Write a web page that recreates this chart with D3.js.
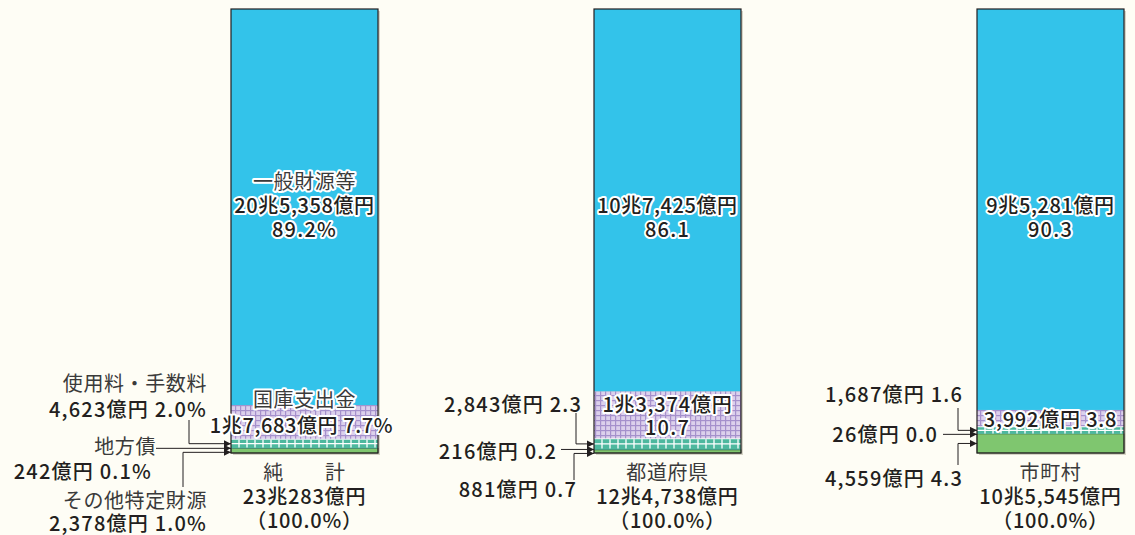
<!DOCTYPE html>
<html><head><meta charset="utf-8">
<script src="https://cdn.jsdelivr.net/npm/d3@7"></script>
<style>
html,body{margin:0;padding:0;background:#FEFDF5;}
svg{display:block;font-family:"Noto Sans CJK JP","Noto Sans",sans-serif;}
</style></head><body><svg id="c" width="1135" height="535"></svg>
<script>
// ---- data ----
const categories = ["純計", "都道府県", "市町村"];
const categoryLabels = ["純　　計", "都道府県", "市町村"];
const totalLabels = ["23兆283億円", "12兆4,738億円", "10兆5,545億円"];
const totalShareLabels = ["（100.0%）", "（100.0%）", "（100.0%）"];
const seriesKeys = ["other", "bonds", "fees", "treasury", "general"];
const seriesNames = ["その他特定財源", "地方債", "使用料・手数料", "国庫支出金", "一般財源等"];
const otherShare = [1.0, 0.7, 4.3];
const bondShare = [0.1, 0.2, 0.0];
const feeShare = [2.0, 2.3, 1.6];
const treasuryShare = [7.7, 10.7, 3.8];
const generalShare = [89.2, 86.1, 90.3];
const otherAmount = ["2,378億円", "881億円", "4,559億円"];
const bondAmount = ["242億円", "216億円", "26億円"];
const feeAmount = ["4,623億円", "2,843億円", "1,687億円"];
const treasuryAmount = ["1兆7,683億円", "1兆3,374億円", "3,992億円"];
const generalAmount = ["20兆5,358億円", "10兆7,425億円", "9兆5,281億円"];
const percentSuffix = ["%", "", ""];

// ---- layout ----
const W = 1135, H = 535;
const barW = 147;
const svg = d3.select("#c");
svg.append("rect").attr("width", W).attr("height", H).attr("fill", "#FEFDF5");

const rows = categories.map((c, i) => ({
  cat: c, i,
  other: otherShare[i], bonds: bondShare[i], fees: feeShare[i],
  treasury: treasuryShare[i], general: generalShare[i]
}));
const stack = d3.stack().keys(seriesKeys)(rows);
const x = d3.scaleOrdinal().domain(categories).range([231, 594, 977]);
const y = d3.scaleLinear().domain([0, 100]).range([453, 9]);
const fmt = d3.format(".1f");
const pct = (v, i) => fmt(v) + percentSuffix[i];

// patterns
const defs = svg.append("defs");
const pp = defs.append("pattern").attr("id", "purple").attr("patternUnits", "userSpaceOnUse")
  .attr("width", 5).attr("height", 5);
pp.append("rect").attr("width", 5).attr("height", 5).attr("fill", "#DCD0EC");
pp.append("rect").attr("x", 0).attr("y", 0).attr("width", 1.2).attr("height", 5).attr("fill", "#A590CC");
pp.append("rect").attr("x", 0).attr("y", 0).attr("width", 5).attr("height", 1.2).attr("fill", "#A590CC");

const colors = {other: "#7FC66F", bonds: "#3F9F86", fees: "#4DB89E", treasury: "url(#purple)", general: "#33C3EA"};

const g = svg.append("g");
// shadow
g.selectAll("rect.shadow").data(rows).join("rect")
  .attr("x", d => x(d.cat) + 2).attr("y", y(100) + 2)
  .attr("width", barW).attr("height", y(0) - y(100))
  .attr("fill", "#D6D4C6");

stack.forEach(s => {
  g.selectAll(null).data(s).join("rect")
    .attr("x", d => x(d.data.cat)).attr("y", d => y(d[1]))
    .attr("width", barW).attr("height", d => Math.max(0, y(d[0]) - y(d[1])))
    .attr("fill", colors[s.key])
    .attr("stroke", (s.key === "other") ? "#3c5a36" : "none")
    .attr("stroke-width", 0.7);
});

// white grid on the fees (teal) segment
const feeLayer = stack.find(s => s.key === "fees");
feeLayer.forEach(d => {
  const bx = x(d.data.cat), y0 = y(d[1]), y1 = y(d[0]);
  g.append("line").attr("x1", bx).attr("x2", bx + barW)
    .attr("y1", (y0 + y1) / 2).attr("y2", (y0 + y1) / 2)
    .attr("stroke", "#fff").attr("stroke-width", 1.3);
  g.selectAll(null).data(d3.range(bx + 8, bx + barW, 8)).join("line")
    .attr("x1", v => v).attr("x2", v => v).attr("y1", y0 + 0.5).attr("y2", y1 - 0.5)
    .attr("stroke", "#fff").attr("stroke-width", 1.3);
  g.append("line").attr("x1", bx).attr("x2", bx + barW).attr("y1", y0).attr("y2", y0)
    .attr("stroke", "#fff").attr("stroke-width", 0.8);
});

// outline
g.selectAll("rect.outline").data(rows).join("rect")
  .attr("x", d => x(d.cat)).attr("y", y(100))
  .attr("width", barW).attr("height", y(0) - y(100))
  .attr("fill", "none").attr("stroke", "#231F20").attr("stroke-width", 1.2);

// ---- texts ----
const TXT = "#231F20";
function label(sel, str, px, py, anchor, opts = {}) {
  const t = sel.append("text").attr("x", px).attr("y", py)
    .attr("text-anchor", anchor).attr("dominant-baseline", "central")
    .attr("font-size", opts.size || 20).attr("fill", opts.fill || TXT)
    .attr("font-weight", opts.weight || 500)
    .attr("letter-spacing", opts.ls != null ? opts.ls : 1.2)
    .text(str);
  if (opts.halo) t.attr("stroke", "#fff").attr("stroke-width", 4).attr("stroke-linejoin", "round").attr("paint-order", "stroke");
  return t;
}
const nameOpts = (extra = {}) => Object.assign({weight: 400, fill: "#3a3a3a", ls: 0.6}, extra);
const T = svg.append("g");
const gen = stack.find(s => s.key === "general");
const tre = stack.find(s => s.key === "treasury");
rows.forEach((r, i) => {
  const bx = x(r.cat), cx = bx + barW / 2;
  // general
  const gTop = y(gen[i][1]);
  if (i === 0) label(T, seriesNames[4], cx, gTop + 171, "middle", nameOpts({halo: true}));
  label(T, generalAmount[i], cx, gTop + 195, "middle", {halo: true, ls: 0.6});
  label(T, pct(generalShare[i], i), cx, gTop + 219, "middle", {halo: true});
  // treasury
  const tMid = (y(tre[i][0]) + y(tre[i][1])) / 2;
  if (i === 0) {
    label(T, seriesNames[3], cx, tMid - 24, "middle", nameOpts({halo: true}));
    label(T, treasuryAmount[i] + " " + pct(treasuryShare[i], i), cx - 3, tMid + 2, "middle", {halo: true, ls: 0.6});
  } else if (i === 1) {
    label(T, treasuryAmount[i], cx, tMid - 12, "middle", {halo: true, ls: 0.8});
    label(T, pct(treasuryShare[i], i), cx, tMid + 11, "middle", {halo: true});
  } else {
    label(T, treasuryAmount[i] + " " + pct(treasuryShare[i], i), cx, tMid, "middle", {halo: true, ls: 0.8});
  }
  // bottom
  label(T, categoryLabels[i], cx, y(0) + 18, "middle", nameOpts());
  label(T, totalLabels[i], cx, y(0) + 42, "middle", {ls: 0.8});
  label(T, totalShareLabels[i], cx, y(0) + 66, "middle", {ls: 0.8});
});

// ---- leader lines with arrows ----
defs.append("marker").attr("id", "arr").attr("viewBox", "0 0 10 10")
  .attr("refX", 10).attr("refY", 5).attr("markerWidth", 7).attr("markerHeight", 7)
  .attr("markerUnits", "userSpaceOnUse").attr("orient", "auto")
  .append("path").attr("d", "M0,0L10,5L0,10z").attr("fill", TXT);

// per bar label layout (offsets relative to bar left)
const feeLayout = [{tx: -24, ty: 408, nameY: 382, vx: -42, vy: 420}, {tx: -12, ty: 403, vx: -18, vy: 413}, {tx: -14, ty: 393, vx: -19, vy: 408}];
const bondLayout = [{tx: -76, ty: 470, nameY: 445, lx: -75}, {tx: -37, ty: 450, lx: -33}, {tx: -39, ty: 433, lx: -34}];
const otherLayout = [{tx: -24, ty: 522, nameY: 499, vx: -48, vy: 487}, {tx: -17, ty: 488, vx: -20, vy: 480}, {tx: -14, ty: 477, vx: -19, vy: 465}];
const feeL = stack.find(s => s.key === "fees"), bondL = stack.find(s => s.key === "bonds"), othL = stack.find(s => s.key === "other");
const L = svg.append("g").attr("stroke", TXT).attr("stroke-width", 1).attr("fill", "none");
rows.forEach((r, i) => {
  const bx = x(r.cat);
  const fy = (y(feeL[i][0]) + y(feeL[i][1])) / 2;
  const by = Math.max((y(bondL[i][0]) + y(bondL[i][1])) / 2, fy + 4);
  const oy = Math.max((y(othL[i][0]) + y(othL[i][1])) / 2, by + 4);
  const fl = feeLayout[i], bl = bondLayout[i], ol = otherLayout[i];
  L.append("path").attr("d", `M${bx + fl.vx},${fl.vy}V${fy}H${bx}`).attr("marker-end", "url(#arr)");
  L.append("path").attr("d", `M${bx + bl.lx},${by}H${bx}`).attr("marker-end", "url(#arr)");
  L.append("path").attr("d", `M${bx + ol.vx},${ol.vy}V${oy}H${bx}`).attr("marker-end", "url(#arr)");
  if (i === 0) {
    label(T, seriesNames[2], bx + fl.tx, fl.nameY, "end", nameOpts());
    label(T, seriesNames[1], bx + bl.tx + 1, bl.nameY, "end", nameOpts());
    label(T, seriesNames[0], bx + ol.tx, ol.nameY, "end", nameOpts());
  }
  label(T, feeAmount[i] + " " + pct(feeShare[i], i), bx + fl.tx, fl.ty, "end");
  label(T, bondAmount[i] + " " + pct(bondShare[i], i), bx + bl.tx - 3 * (i === 0), bl.ty, "end");
  label(T, otherAmount[i] + " " + pct(otherShare[i], i), bx + ol.tx, ol.ty, "end");
});
</script></body></html>
